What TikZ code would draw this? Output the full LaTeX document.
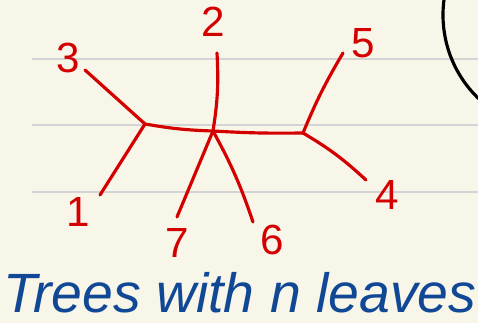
\documentclass[tikz,border=0pt]{standalone}
\usepackage{fontspec}
\setmainfont{Liberation Sans}
\usetikzlibrary{positioning}
\definecolor{paper}  {RGB}{248,245,233}
\definecolor{ruling} {RGB}{212,212,212}
\definecolor{inkred} {RGB}{212,  0,  0}
\definecolor{inkblue}{RGB}{ 16, 72,150}

\begin{document}
\begin{tikzpicture}[
  x=0.02cm, y=-0.02cm,
  ruleline/.style={ruling, line width=1.5pt},
  branch/.style={inkred, line width=1.8pt, line cap=round, line join=round},
  leaf/.style={inkred, font=\fontsize{24}{24}\selectfont, inner sep=0pt},
  caption/.style={inkblue, font=\itshape\fontsize{31.5}{31.5}\selectfont, inner sep=0pt}
]
  % Paper
  \fill[paper] (0,0) rectangle (478,323);
  \useasboundingbox (0,0) rectangle (478,323);
  \foreach \y in {59,125,192}
    \draw[ruleline] (32,\y) -- (478,\y);
  \begin{scope}
    \clip (0,0) rectangle (478,323);
    \draw[black, line width=1.8pt] (559,15) circle[radius=116];
  \end{scope}

  % Inner vertices
  \coordinate (a) at (145,124);
  \coordinate (b) at (213,131);
  \coordinate (c) at (303,133);

  % Leaf ends
  \coordinate (e1) at (100,195);
  \coordinate (e2) at (217,53);
  \coordinate (e3) at (85,70);
  \coordinate (e4) at (366,180);
  \coordinate (e5) at (343,53);
  \coordinate (e6) at (253,222);
  \coordinate (e7) at (177,217);

  % Labels
  \node[leaf] (n1) at (78,212) {1};
  \node[leaf] (n2) at (213,22) {2};
  \node[leaf] (n3) at (68,58) {3};
  \node[leaf] (n4) at (387,195) {4};
  \node[leaf] (n5) at (363,43) {5};
  \node[leaf] (n6) at (272,240) {6};
  \node[leaf] (n7) at (177,243) {7};
  \node[caption, anchor=base] (title) at (240,313) {Trees with n leaves};

  % Edges
  \draw[branch] (a) to[bend right=4] (b) to[bend right=2] (c);
  \draw[branch] (e3) -- (a);
  \draw[branch] (a) -- (e1);
  \draw[branch] (e2) to[bend left=6] (b);
  \draw[branch] (b) -- (e7);
  \draw[branch] (b) to[bend left=5] (e6);
  \draw[branch] (e5) to[bend right=4] (c);
  \draw[branch] (c) to[bend left=6] (e4);
\end{tikzpicture}
\end{document}
